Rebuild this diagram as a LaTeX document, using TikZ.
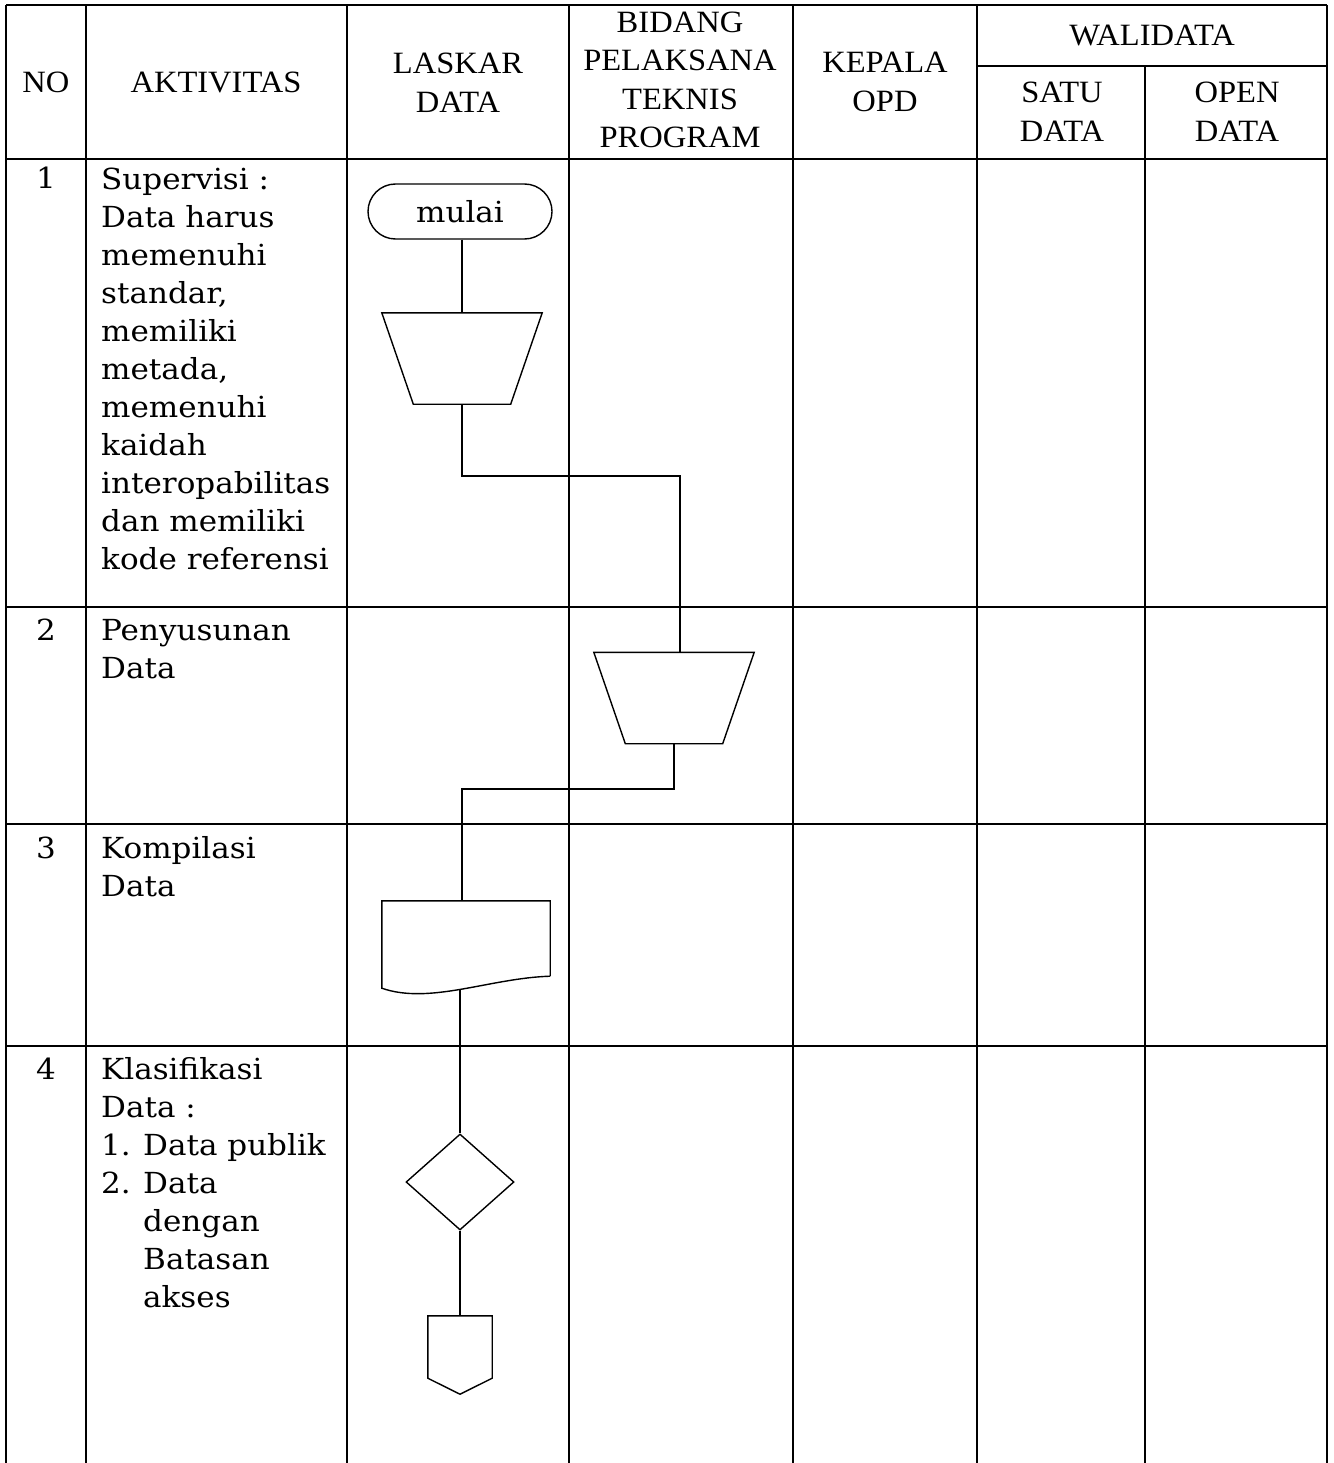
\documentclass[tikz,border=0pt]{standalone}
\usepackage{fontspec}
\setmainfont{DejaVu Serif}[FakeStretch=1.07]
\newfontfamily\headfont{Liberation Serif}[FakeStretch=1.05]
\usetikzlibrary{shapes.geometric,shapes.misc}

\tikzset{
  tableline/.style={line width=2pt},
  flow/.style={line width=1.4pt},
  conn/.style={line width=1.2pt},
  head/.style={font=\headfont\fontsize{31}{38.5}\selectfont, align=center, inner sep=0pt},
  cell/.style={font=\fontsize{29}{38}\selectfont, align=left, anchor=base west, inner sep=0pt},
  num/.style={font=\fontsize{29}{38}\selectfont, anchor=base, inner sep=0pt},
  terminal/.style={draw, flow, rounded rectangle, minimum width=184pt, minimum height=55pt, inner sep=0pt, font=\fontsize{29}{38}\selectfont},
  manualbox/.style={minimum width=160pt, minimum height=91pt, inner sep=0pt},
  decision/.style={draw, flow, diamond, minimum width=108pt, minimum height=96pt, inner sep=0pt},
  docbox/.style={minimum width=168pt, minimum height=75pt, inner sep=0pt},
  offpage/.style={minimum width=64pt, minimum height=62pt, inner sep=0pt}
}

\begin{document}
\begin{tikzpicture}[x=1pt,y=-1pt]
    \useasboundingbox (0,0) rectangle (1333,1463);

    % table
    \draw [tableline] (6,5) -- (1327,5);
    \draw [tableline] (977,66) -- (1327,66);
    \foreach \y in {159,607,824,1046}
        \draw [tableline] (6,\y) -- (1327,\y);
    \foreach \x in {6,86,347,569,793,977,1327}
        \draw [tableline] (\x,5) -- (\x,1463);
    \draw [tableline] (1145,66) -- (1145,1463);

    % header
    \node [head] (hno) at (46,82) {NO};
    \node [head] (hakt) at (216,82) {AKTIVITAS};
    \node [head] (hlaskar) at (458,83) {LASKAR\\DATA};
    \node [head] (hbidang) at (680,80) {BIDANG\\PELAKSANA\\TEKNIS\\PROGRAM};
    \node [head] (hkepala) at (885,82) {KEPALA\\OPD};
    \node [head] (hwali) at (1152,36) {WALIDATA};
    \node [head] (hsatu) at (1062,112) {SATU\\DATA};
    \node [head] (hopen) at (1237,112) {OPEN\\DATA};

    % rows (base = last line)
    \node [num] (n1) at (46,189) {1};
    \node [num] (n2) at (46,640) {2};
    \node [num] (n3) at (46,858) {3};
    \node [num] (n4) at (46,1079) {4};

    \node [cell] (a1) at (101,569) {Supervisi :\\Data harus\\memenuhi\\standar,\\memiliki\\metada,\\memenuhi\\kaidah\\interopabilitas\\dan memiliki\\kode referensi};
    \node [cell] (a2) at (101,678) {Penyusunan\\Data};
    \node [cell] (a3) at (101,896) {Kompilasi\\Data};
    \node [cell] (a4) at (101,1307) {Klasifikasi\\Data :\\\makebox[42pt][l]{1.}Data publik\\\makebox[42pt][l]{2.}Data\\\hspace*{42pt}dengan\\\hspace*{42pt}Batasan\\\hspace*{42pt}akses};

    % flow
    \node [terminal] (mulai) at (460,211.5) {mulai};
    \node [manualbox] (input1) at (462,358.5) {};
    \node [manualbox] (input2) at (674,698) {};
    \node [docbox] (kompilasi) at (466,938.5) {};
    \node [decision] (klasifikasi) at (460,1182) {};
    \node [offpage] (lanjut) at (460,1347) {};

    \foreach \m in {input1,input2}
        \draw [flow] (\m.north west) -- (\m.north east) -- ([xshift=-31.5pt]\m.south east)
            -- ([xshift=31.5pt]\m.south west) -- cycle;
    \draw [flow] (kompilasi.south east) -- (kompilasi.north east) -- (kompilasi.north west)
        -- ([yshift=-12pt]kompilasi.south west)
        .. controls (430,1005) and (490,978) .. node [coordinate, pos=0.5] (kompilasib) {} (kompilasi.south east);
    \draw [flow] (lanjut.south west) -- (lanjut.north west) -- (lanjut.north east)
        -- (lanjut.south east) -- ([yshift=-16pt]lanjut.south) -- cycle;

    \coordinate (bend1) at (0,476);
    \coordinate (bend2) at (0,789);

    \draw [conn] (input1.north |- mulai.south) -- (input1.north);
    \draw [conn] (input1.south) -- (input1.south |- bend1) -| ([xshift=6pt]input2.north);
    \draw [conn] (input2.south) -- (input2.south |- bend2) -| ([xshift=-4pt]kompilasi.north);
    \draw [conn] (klasifikasi.north |- kompilasib) -- (klasifikasi.north);
    \draw [conn] (klasifikasi.south) -- (lanjut.north);
\end{tikzpicture}
\end{document}
